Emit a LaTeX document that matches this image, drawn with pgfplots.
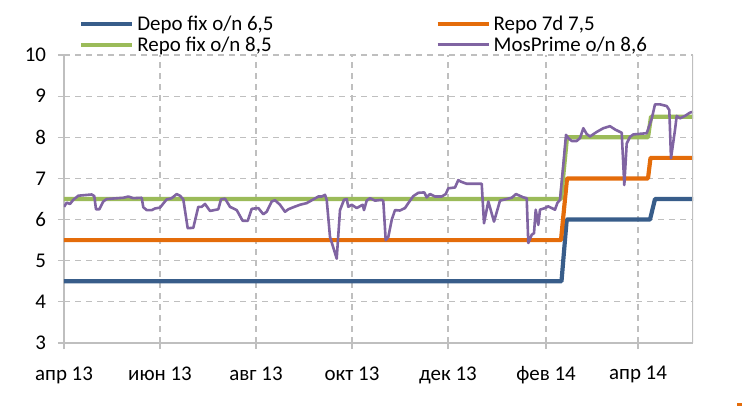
\documentclass[border=0pt]{standalone}
\usepackage{fontspec}
\setmainfont{Carlito}
\usepackage{pgfplots}
\pgfplotsset{compat=1.18}
\definecolor{cblue}{HTML}{385D8A}
\definecolor{corange}{HTML}{E46C0A}
\definecolor{cgreen}{HTML}{9BBB59}
\definecolor{cpurple}{HTML}{8064A2}
\definecolor{cgrid}{HTML}{BFBFBF}
\begin{document}
\begin{tikzpicture}
\path[use as bounding box] (0,0) rectangle (742bp,414bp);
\fill[corange] (737bp,8bp) rectangle (742bp,11bp);
\begin{axis}[
  at={(64bp,71bp)}, anchor=south west,
  scale only axis, width=629bp, height=288bp,
  xmin=64, xmax=693, ymin=3, ymax=10,
  axis x line*=bottom, axis y line*=left,
  axis line style={cgrid, line width=1.6bp, -},
  xtick={64,160,256,352,448,546,638},
  xticklabels={апр 13, июн 13, авг 13, окт 13, дек 13, фев 14, апр 14},
  ytick={3,4,5,6,7,8,9,10},
  grid=major,
  grid style={cgrid, line width=1.2bp, dash pattern=on 6bp off 5bp},
  tick align=outside, major tick length=6bp,
  tick style={cgrid, line width=1.2bp},
  tick label style={font=\fontsize{21}{24}\selectfont, text=black},
  /pgf/number format/assume math mode=true,
  yticklabel style={xshift=-8.5bp},
  xticklabel style={yshift=-14bp},
  legend columns=2,
  legend cell align=left,
  legend image code/.code={\draw[#1] (0bp,0bp) -- (51bp,0bp);},
  legend style={at={(0.0238,1.141)}, anchor=north west, draw=none, fill=none,
    inner sep=0pt, row sep=3bp,
    font=\fontsize{21}{24}\selectfont,
    nodes={inner xsep=3bp, inner ysep=1bp},
    /tikz/every even column/.append style={column sep=159bp}},
]
\addplot[cblue, line width=4.2bp, line join=round] coordinates {
(64,4.5) (561.5,4.5) (566.7,6) (650,6) (655,6.5) (693,6.5)};
\addlegendentry{Depo fix o/n 6,5}
\addplot[corange, line width=4.2bp, line join=round] coordinates {
(64,5.5) (561,5.5) (567,7) (648,7) (650.5,7.5) (693,7.5)};
\addlegendentry{Repo 7d 7,5}
\addplot[cgreen, line width=4.2bp, line join=round] coordinates {
(64,6.5) (561,6.5) (567,8) (648,8) (651,8.5) (693,8.5)};
\addlegendentry{Repo fix o/n 8,5}
\addplot[cpurple, line width=2.6bp, line join=round] coordinates {
(64,6.31) (66.7,6.41) (70,6.38) (73.3,6.48) (78.3,6.58) (91.7,6.61) (94.3,6.57)
(96,6.25) (99.3,6.25) (103.3,6.44) (106.7,6.50) (123.3,6.53) (128.3,6.56)
(133.3,6.52) (141.7,6.53) (143.3,6.30) (146.7,6.23) (151.7,6.23) (155,6.27)
(160,6.29) (163.3,6.39) (166.7,6.49) (171.7,6.52) (176.7,6.62) (180,6.58)
(183.3,6.49) (187.7,5.79) (193.3,5.80) (198.3,6.31) (201.7,6.31) (205,6.38)
(210,6.21) (218.3,6.25) (221,6.49) (225,6.51) (230,6.31) (236.7,6.23)
(242.7,5.97) (247.7,5.97) (251.7,6.26) (258.3,6.28) (263.3,6.13) (266.7,6.19)
(271.7,6.44) (275,6.47) (280,6.36) (285,6.19) (288.3,6.25) (293.3,6.30)
(300,6.36) (306.7,6.40) (313.3,6.49) (318.3,6.56) (321.7,6.56) (325,6.60)
(326.7,6.48) (330,5.58) (336.7,5.05) (340,6.23) (344,6.48) (346.7,6.50)
(348.3,6.31) (351.7,6.36) (356.7,6.28) (362.7,6.36) (364,6.23) (366.7,6.46)
(370,6.52) (375,6.46) (381.7,6.48) (383.3,6.45) (385.7,5.50) (388.3,5.58)
(391.7,5.99) (395,6.23) (400,6.22) (405,6.28) (408.3,6.40) (413.3,6.57)
(418.3,6.65) (424.3,6.66) (426.7,6.54) (430,6.62) (435,6.56) (441.7,6.56)
(445.7,6.62) (448.3,6.76) (455,6.78) (458.3,6.96) (461,6.92) (466.7,6.87)
(481.7,6.87) (484,5.91) (488.3,6.44) (494,5.95) (500,6.46) (505,6.49)
(511.7,6.53) (516,6.62) (523.3,6.54) (526.7,6.52) (528.3,5.43) (531.7,5.63)
(534,5.67) (535.7,6.24) (538.3,5.87) (540,6.24) (545,6.28) (548.3,6.32)
(551.7,6.28) (555,6.24) (557.3,6.40) (560,6.48) (563.3,7.33) (566,8.06)
(568.3,7.98) (571.7,7.91) (576.7,7.91) (580,7.98) (583.3,8.22) (586.7,8.08)
(590,8.02) (596.7,8.13) (603.3,8.22) (610,8.27) (615,8.19) (621.7,8.11)
(624.3,6.84) (626.7,7.85) (630,8.01) (633.3,8.07) (638.3,8.08) (646.7,8.10)
(651.7,8.45) (655,8.80) (660,8.80) (666.7,8.76) (669.3,8.66) (671,7.49)
(675,8.18) (676.7,8.52) (680,8.46) (685,8.52) (690,8.60) (693,8.62)};
\addlegendentry{MosPrime o/n 8,6}
\draw[cgrid, line width=1.6bp] (rel axis cs:1,0) -- (rel axis cs:1,1);
\end{axis}
\end{tikzpicture}
\end{document}
